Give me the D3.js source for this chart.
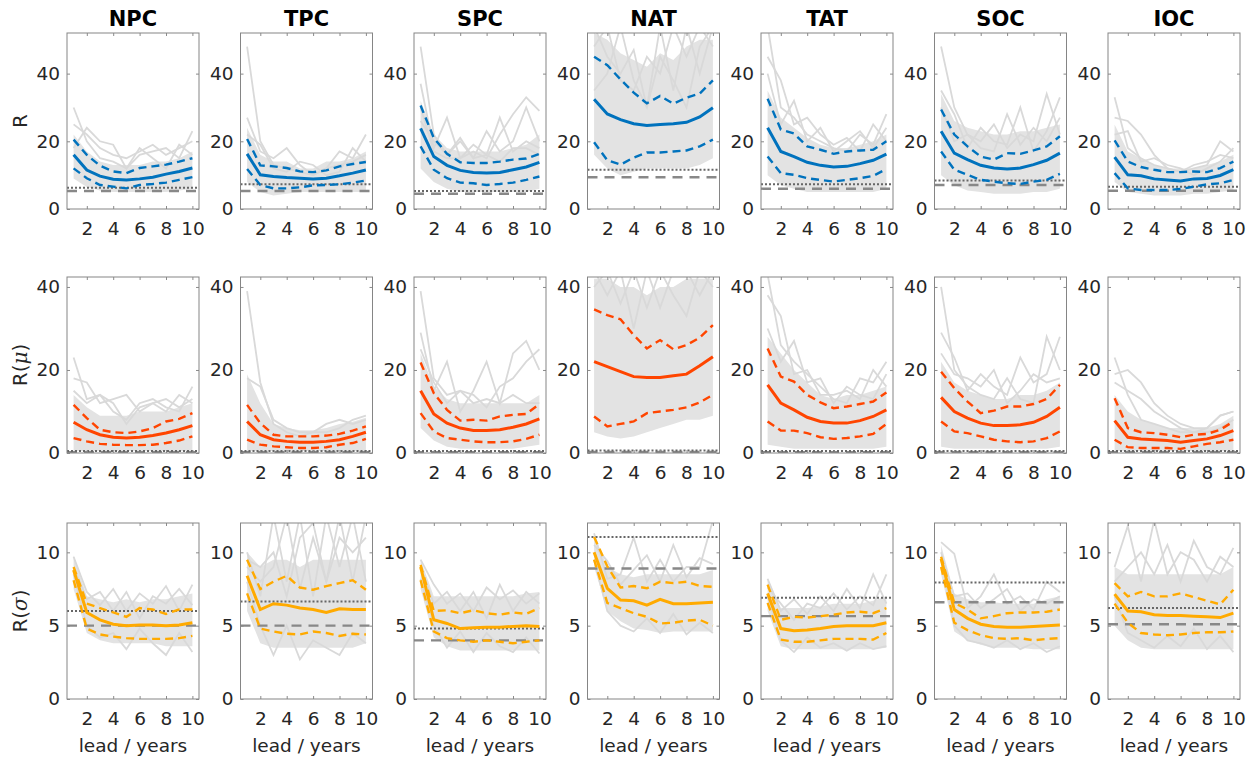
<!DOCTYPE html>
<html>
<head>
<meta charset="utf-8">
<script src="https://cdn.jsdelivr.net/npm/d3@7"></script>
<style>
  body { margin: 0; background: #fff; }
  text { font-family: "DejaVu Sans", "Liberation Sans", Arial, sans-serif; }
</style>
</head>
<body>
<script>
// ---- data ----
const leads = [1, 2, 3, 4, 5, 6, 7, 8, 9, 10];
const regions = ["NPC", "TPC", "SPC", "NAT", "TAT", "SOC", "IOC"];
const xTicks = [2, 4, 6, 8, 10];

// row 1 : R
const R_mean = [
  [16, 11.5, 9.7, 8.8, 8.6, 8.9, 9.4, 10.3, 11.1, 12.1],
  [16.3, 10.1, 9.6, 9.3, 9.1, 8.9, 9.1, 9.8, 10.6, 11.5],
  [23.8, 15.5, 12.9, 11.4, 10.8, 10.6, 10.8, 11.6, 12.4, 13.8],
  [32.4, 28.1, 26.4, 25.2, 24.7, 25, 25.2, 25.6, 27.2, 29.9],
  [24, 17, 15.5, 13.8, 12.9, 12.4, 12.6, 13.4, 14.4, 16.2],
  [23, 16.5, 14.6, 12.9, 12.1, 11.8, 12.1, 13.1, 14.4, 16.5],
  [15.3, 10.1, 9.8, 8.9, 8.6, 8.3, 8.9, 9, 9.9, 11.6]
];
const R_upper = [
  [20.5, 16, 12.8, 11.1, 10.6, 12.1, 12.6, 13.1, 14, 15],
  [20.7, 12.9, 12.6, 12.1, 11.1, 10.9, 11.4, 12.6, 13.3, 13.9],
  [30.6, 21, 16.3, 13.8, 13.6, 13.6, 14, 14.6, 14.9, 16.3],
  [45, 42.5, 38.3, 34.4, 31.2, 33.4, 31.1, 32.9, 34.1, 38],
  [32.6, 23.5, 22.3, 18.5, 17.5, 16.3, 17, 17.3, 17.5, 20],
  [29.4, 22, 18.5, 15.5, 14.6, 16.5, 16.3, 17.3, 18.5, 21.5],
  [20.3, 14, 12.4, 11.6, 10.9, 10.9, 11.1, 10.9, 12.1, 14]
];
const R_lower = [
  [12, 9.1, 7.1, 6.6, 6.1, 7.1, 7.4, 7.8, 8.6, 9.4],
  [11.8, 7.1, 6.1, 6.1, 6.4, 7, 7.1, 7.3, 7.8, 8.4],
  [18.5, 11.6, 9.1, 7.8, 7.6, 7.1, 7.4, 7.8, 8.6, 9.6],
  [19.7, 14.4, 13.1, 15.2, 16.7, 16.7, 17, 17.3, 18.5, 20.5],
  [15.5, 10.6, 10.1, 9.1, 8.6, 8.1, 8.6, 9.1, 9.8, 11.8],
  [17, 11.6, 10.1, 8.6, 8.1, 7.6, 7.4, 8.1, 8.6, 10.4],
  [10.6, 6.1, 5.6, 5.6, 5.6, 5.9, 6.6, 7.3, 7.6, 8.6]
];
const R_dotted = [6.3, 7.3, 5.3, 11.6, 7.3, 8.4, 6.6];
const R_dashed = [5.3, 5.3, 4.5, 9.4, 6, 7.1, 5.4];
const R_grayLo = [
  [9, 6.5, 5.5, 5, 5, 5, 5, 5, 5.5, 6],
  [8, 5, 4, 4.5, 5, 5, 5, 5, 5, 5],
  [12, 8, 6, 5, 5, 5, 5, 5, 5, 6],
  [16, 12, 10, 11, 12, 12, 12, 12, 13, 15],
  [10, 7, 6, 5, 5, 5, 5, 5, 5, 6],
  [10, 7, 5.5, 5, 4.5, 4.5, 4.5, 5, 5, 6],
  [8, 5, 4.5, 4, 4, 4, 4.5, 4.5, 5, 5.5]
];
const R_grayHi = [
  [22, 17, 14, 13, 13, 13, 14, 14, 15, 17],
  [24, 16, 14, 14, 12, 12, 14, 14, 15, 17],
  [32, 22, 18, 17, 17, 17, 17, 18, 19, 22],
  [52, 50, 46, 44, 42, 46, 44, 48, 50, 50],
  [35, 27, 24, 21, 19, 18, 18, 19, 20, 22],
  [34, 26, 24, 23, 22, 22, 23, 23, 24, 25],
  [25, 17, 15, 13, 12, 12, 12, 13, 14, 16]
];
const R_grayLines = [
  [[30, 20, 15, 14, 12, 16, 17, 18, 15, 23], [25, 22, 18, 16, 15, 17, 19, 16, 18, 20], [18, 24, 20, 19, 12, 18, 15, 12, 19, 16]],
  [[48, 20, 13, 12, 11, 10, 12, 13, 14, 16], [27, 17, 15, 18, 13, 10, 12, 17, 15, 22], [22, 19, 12, 11, 14, 13, 10, 11, 18, 14]],
  [[48, 22, 16, 20, 15, 16, 14, 18, 18, 16], [37, 18, 27, 15, 19, 16, 27, 17, 20, 18], [30, 17, 15, 15, 17, 15, 22, 28, 33, 29], [26, 20, 16, 21, 15, 23, 17, 20, 30, 20]],
  [[54, 45, 40, 47, 30, 54, 35, 54, 40, 54], [48, 54, 38, 35, 45, 40, 54, 45, 54, 48], [35, 40, 54, 38, 30, 45, 38, 30, 48, 54]],
  [[54, 30, 27, 22, 20, 18, 17, 22, 19, 28], [45, 38, 25, 27, 22, 19, 21, 17, 25, 20], [40, 25, 32, 20, 24, 17, 20, 23, 18, 24]],
  [[48, 30, 22, 20, 25, 18, 22, 20, 34, 22], [35, 28, 18, 24, 20, 19, 30, 17, 23, 33], [30, 20, 22, 18, 17, 28, 19, 24, 20, 27]],
  [[33, 18, 15, 13, 12, 11, 12, 13, 20, 17], [27, 26, 22, 16, 12, 11, 13, 14, 16, 15], [22, 23, 14, 15, 13, 12, 10, 12, 14, 18]]
];

// row 2 : R(mu)
const M_mean = [
  [7.4, 5.6, 4.4, 3.8, 3.6, 3.8, 4.2, 4.8, 5.6, 6.6],
  [7.6, 4.4, 3.2, 2.8, 2.6, 2.6, 2.8, 3.2, 4, 5],
  [15, 9.4, 7.2, 6, 5.4, 5.4, 5.6, 6.2, 7, 8.2],
  [22, 20.8, 19.6, 18.4, 18.2, 18.2, 18.6, 19, 21, 23.2],
  [16.4, 12, 10.4, 8.6, 7.6, 7.2, 7.2, 7.8, 8.8, 10.4],
  [13.4, 10, 8.4, 7.2, 6.6, 6.6, 6.8, 7.4, 8.8, 11],
  [7.8, 3.8, 3.4, 3.2, 3, 2.6, 3, 3.4, 4.2, 5.4]
];
const M_upper = [
  [11.6, 8.4, 5.6, 5, 4.8, 5.2, 6, 7.6, 8.2, 9.6],
  [11.6, 7.2, 4.4, 4, 4, 4, 4.2, 4.6, 5.4, 6.4],
  [21.8, 14.4, 10.4, 7.8, 8, 7.8, 8.8, 9.2, 9.4, 11.8],
  [34.6, 33.2, 32.2, 28.4, 25.2, 27.2, 25, 26, 27.8, 30.8],
  [25.2, 18.4, 17.2, 14, 12.2, 10.8, 11.2, 11.8, 12.4, 14.6],
  [19.6, 15.6, 12.4, 9.6, 10.2, 11.2, 11.2, 11.8, 13, 16.4],
  [13.2, 6, 5, 4.8, 4.4, 3.8, 4.4, 4.6, 5.6, 7.6]
];
const M_lower = [
  [3.6, 2.8, 2.2, 2, 1.9, 1.9, 2, 2.4, 3, 4],
  [3.2, 2, 1.6, 1.4, 1.2, 1.2, 1.4, 2, 2.4, 3.4],
  [9.6, 5.2, 3.6, 3.2, 2.8, 2.6, 2.6, 2.8, 3.4, 4.4],
  [8.8, 6.4, 7, 7.6, 9.6, 10, 10.4, 11, 12.2, 14],
  [7.6, 5.4, 5.4, 4.8, 3.8, 3.4, 3.6, 4, 4.6, 7],
  [7.6, 5.2, 4.8, 4, 3.2, 2.8, 2.6, 2.8, 3.6, 5.2],
  [3.2, 1.4, 1.2, 1.2, 1.2, 1, 1.6, 2.2, 2.6, 3.2]
];
const M_dotted = [0.5, 0.5, 0.5, 0.6, 0.5, 0.5, 0.5];
const M_dashed = [0.2, 0.2, 0.2, 0.25, 0.2, 0.2, 0.2];
const M_grayLo = [
  [0.5, 0.5, 0.5, 0.5, 0.5, 0.5, 0.5, 0.5, 0.5, 0.5],
  [0.5, 0.5, 0.5, 0.5, 0.5, 0.5, 0.5, 0.5, 0.5, 0.5],
  [6, 3, 1.5, 1, 1, 1, 1, 1, 1.5, 2],
  [5, 4, 3.5, 4, 5, 6, 7, 8, 8, 9],
  [2, 1.5, 1, 1, 1, 1, 1, 1, 1, 1.5],
  [1.5, 1, 1, 1, 1, 1, 1, 1, 1, 1.5],
  [0.5, 0.5, 0.5, 0.5, 0.5, 0.5, 0.5, 0.5, 0.5, 0.5]
];
const M_grayHi = [
  [14, 11, 9, 9, 9, 10, 10, 10, 11, 12],
  [19, 12, 7, 6, 5.5, 5.5, 6, 7, 7.5, 8.5],
  [24, 16, 13, 12, 12, 12, 12, 12, 12, 14],
  [42, 42, 40, 40, 38, 40, 40, 42, 42, 42],
  [28, 24, 20, 17, 14, 13, 14, 14, 15, 16],
  [22, 17, 15, 14, 13, 13, 14, 14, 15, 17],
  [14, 10, 8, 7, 6, 6, 6, 6, 7, 9]
];
const M_grayLines = [
  [[23, 13, 14, 10, 8, 12, 13, 11, 10, 16], [18, 17, 12, 13, 14, 10, 12, 10, 14, 12], [15, 12, 14, 12, 7, 11, 12, 13, 11, 13]],
  [[39, 17, 7, 5, 4, 5, 5, 6, 8, 9], [18, 16, 8, 6, 5, 5, 7, 8, 7, 8]],
  [[39, 18, 14, 15, 12, 13, 12, 14, 12, 12], [29, 15, 22, 10, 15, 22, 12, 24, 27, 20], [25, 17, 12, 15, 14, 11, 16, 18, 22, 25]],
  [[44, 38, 44, 30, 44, 35, 44, 44, 38, 44], [40, 44, 36, 44, 35, 44, 38, 33, 44, 40]],
  [[43, 26, 22, 19, 16, 13, 12, 18, 17, 22], [38, 33, 19, 20, 14, 14, 15, 13, 20, 16], [30, 22, 27, 17, 18, 12, 16, 14, 13, 19]],
  [[40, 20, 16, 14, 13, 18, 13, 12, 28, 20], [29, 23, 15, 19, 16, 14, 23, 17, 19, 28], [24, 19, 18, 16, 20, 12, 15, 19, 17, 18]],
  [[23, 14, 8, 7, 6, 5, 5, 5, 6, 8], [19, 20, 17, 12, 9, 7, 6, 6, 9, 10], [17, 15, 13, 10, 8, 6, 5, 6, 9, 10]]
];

// row 3 : R(sigma)
const S_mean = [
  [8.8, 5.9, 5.4, 5.1, 5, 5.05, 5.05, 5, 5.05, 5.2],
  [8.4, 6.1, 6.5, 6.4, 6.2, 6.1, 5.9, 6.15, 6.1, 6.1],
  [9, 5.4, 5.15, 4.8, 4.85, 4.9, 4.9, 4.95, 5, 4.95],
  [10, 7.55, 6.75, 6.7, 6.4, 6.8, 6.5, 6.5, 6.55, 6.6],
  [7.2, 4.8, 4.65, 4.7, 4.8, 4.95, 5, 5, 5, 5.2],
  [9.55, 6.1, 5.5, 5.1, 4.95, 4.9, 4.9, 4.95, 5, 5.05],
  [7.15, 6, 5.95, 5.75, 5.7, 5.7, 5.65, 5.6, 5.55, 5.85]
];
const S_upper = [
  [9, 6.5, 6.2, 5.9, 5.6, 6.2, 6.1, 5.8, 6.1, 6.1],
  [9.5, 7.5, 8, 8.4, 7.6, 7.45, 7.7, 7.9, 8.1, 7.45],
  [9.15, 6, 6.05, 5.85, 6.05, 5.85, 5.75, 5.9, 5.8, 6.2],
  [11.05, 9.05, 7.6, 7.7, 7.55, 8, 7.9, 8, 7.7, 7.65],
  [7.8, 5.4, 5.6, 5.55, 5.65, 5.75, 5.9, 5.95, 5.85, 6.2],
  [9.7, 6.55, 6.1, 5.5, 5.65, 5.85, 5.9, 5.9, 5.95, 6.1],
  [7.9, 7, 7.3, 7, 7, 7.2, 6.95, 6.7, 6.45, 7.45]
];
const S_lower = [
  [8.1, 4.8, 4.4, 4.25, 4.15, 4.1, 4.1, 4.1, 4.15, 4.3],
  [7.2, 4.8, 4.6, 4.45, 4.4, 4.6, 4.5, 4.3, 4.45, 4.4],
  [8.1, 4.6, 4.15, 4, 3.9, 4, 3.9, 3.8, 3.9, 4],
  [9.5, 6.55, 6.2, 5.85, 5.6, 5.15, 5.2, 5.35, 5.4, 5],
  [6.55, 4.05, 3.9, 3.9, 4, 4.1, 4.1, 4.1, 4.05, 4.5],
  [9, 5.2, 4.7, 4.35, 4.15, 4.1, 4.15, 4, 4.1, 4.15],
  [6.5, 5.2, 4.5, 4.4, 4.35, 4.4, 4.5, 4.55, 4.55, 4.6]
];
const S_dotted = [6, 6.65, 4.8, 11.05, 6.9, 7.95, 6.2];
const S_dashed = [5, 5, 4, 8.9, 5.65, 6.6, 5.1];
const S_grayLo = [
  [7.5, 4.5, 4, 3.8, 3.8, 3.8, 3.8, 3.6, 3.6, 3.6],
  [6, 3.8, 3.5, 3.5, 3.5, 3.5, 3.5, 3.5, 3.5, 3.8],
  [7.5, 4.2, 3.6, 3.3, 3.3, 3.3, 3.3, 3.3, 3.3, 3.3],
  [9, 6, 5.3, 4.8, 4.7, 4.5, 4.6, 4.6, 4.6, 4.6],
  [6, 3.6, 3.4, 3.4, 3.4, 3.4, 3.4, 3.4, 3.4, 3.5],
  [8.5, 4.6, 4, 3.7, 3.5, 3.5, 3.5, 3.4, 3.4, 3.4],
  [5, 4, 3.5, 3.4, 3.4, 3.4, 3.4, 3.4, 3.4, 3.4]
];
const S_grayHi = [
  [9.8, 7, 6.8, 6.6, 6.8, 6.6, 6.8, 6.8, 7, 7.2],
  [10, 9, 9.5, 9.5, 9, 9.5, 9.5, 9.5, 9.5, 9.5],
  [9.5, 7, 7, 7, 7, 7, 7, 7, 7.2, 7.3],
  [11.2, 9, 8.5, 8.3, 8.5, 8.5, 8.5, 8.5, 8.5, 8.8],
  [8.2, 6.2, 6.2, 6.2, 6.3, 6.5, 6.5, 6.5, 6.7, 7],
  [10.5, 7.2, 6.8, 6.6, 6.6, 6.5, 6.5, 6.5, 6.8, 7],
  [9, 8.5, 8.5, 8.5, 8.5, 8.5, 8.5, 8.5, 8.5, 9]
];
const S_grayLines = [
  [[9.7, 7.3, 6.4, 7.5, 6, 7.2, 6.5, 7.7, 6, 7.8], [9, 6.8, 7.3, 6, 7.3, 5.5, 7, 6.5, 7.5, 6.4], [8.5, 5, 4.2, 4.5, 3.4, 4.8, 3.8, 3, 4.5, 3.2]],
  [[10, 7, 12.5, 8, 12.5, 7, 12.5, 9, 12.5, 8], [9, 8, 9, 12.5, 7.5, 11, 8, 12.5, 8, 12.5], [8, 5, 3, 5, 2.7, 4, 3.5, 3, 4.5, 3.8], [9.5, 9, 10, 7, 11, 12, 8, 11, 10, 11]],
  [[9.5, 7.8, 6.5, 7.2, 6, 7.6, 6.8, 7.4, 6.5, 7.2], [9, 6.5, 7.3, 6, 7.3, 5.5, 7.8, 6, 7.3, 6.5], [8.2, 5, 3.5, 4.6, 3.2, 4.5, 3.6, 3.2, 4.2, 3.1]],
  [[11.3, 8.2, 8.5, 11, 8, 9.5, 8, 9, 9, 12.2], [10.5, 9.4, 7.8, 8.8, 9.8, 8, 10.5, 8.3, 9.6, 9.2], [9.5, 6, 5, 4.6, 5.5, 4.5, 5.8, 4.4, 5.2, 4.5]],
  [[8.2, 6, 6.8, 5.8, 7, 6, 7.5, 6.2, 8.5, 6.5], [7.6, 6.5, 5.4, 6.5, 6.2, 7.2, 6.1, 7, 6.4, 8.5], [7, 4, 3.2, 4.2, 3.5, 3.8, 3.3, 3.8, 3.4, 3.6]],
  [[10.7, 9.9, 6.2, 7, 8.5, 6.5, 7, 6.1, 8, 7.3], [10, 7, 7.2, 6.2, 6.8, 7.5, 6, 6.8, 6.5, 7], [9.5, 5, 4, 3.8, 3.5, 4, 3.4, 3.8, 3.2, 3.6]],
  [[9, 11.8, 8, 12.2, 8.5, 10, 9.5, 8, 9.7, 9], [8, 9, 10, 8.5, 10.5, 8, 10.8, 9, 8.5, 10.3], [7, 4.5, 4, 3.5, 4.3, 3.6, 4.8, 3.4, 4.3, 3.2]]
];

const rows = [
  { label: "R", sym: null, ymax: 52, ticks: [0, 20, 40], color: "#0072bd",
    mean: R_mean, upper: R_upper, lower: R_lower, dotted: R_dotted, dashed: R_dashed,
    grayLo: R_grayLo, grayHi: R_grayHi, grayLines: R_grayLines },
  { label: "R", sym: "\u03bc", ymax: 42.4, ticks: [0, 20, 40], color: "#ff4500",
    mean: M_mean, upper: M_upper, lower: M_lower, dotted: M_dotted, dashed: M_dashed,
    grayLo: M_grayLo, grayHi: M_grayHi, grayLines: M_grayLines },
  { label: "R", sym: "\u03c3", ymax: 12, ticks: [0, 5, 10], color: "#ffaa00",
    mean: S_mean, upper: S_upper, lower: S_lower, dotted: S_dotted, dashed: S_dashed,
    grayLo: S_grayLo, grayHi: S_grayHi, grayLines: S_grayLines }
];

// ---- layout ----
const W = 132, H = 176;
const colX = regions.map((d, i) => 67 + i * 173.5);
const rowY = [33, 277, 523];

const svg = d3.select("body").append("svg")
  .attr("width", 1258)
  .attr("height", 760);

const x = d3.scaleLinear().domain([0.5, 10.5]).range([0, W]);

rows.forEach((row, r) => {
  const y = d3.scaleLinear().domain([0, row.ymax]).range([H, 0]);
  const line = d3.line().x((d, i) => x(leads[i])).y(d => y(d));

  regions.forEach((reg, c) => {
    const g = svg.append("g").attr("transform", `translate(${colX[c]},${rowY[r]})`);
    const clipId = `clip-${r}-${c}`;
    g.append("clipPath").attr("id", clipId)
      .append("rect").attr("width", W).attr("height", H);
    const plot = g.append("g").attr("clip-path", `url(#${clipId})`);

    // ensemble members: dense core + some individual members
    const area = d3.area()
      .x((d, i) => x(leads[i]))
      .y0((d, i) => y(row.grayLo[c][i]))
      .y1(d => y(d));
    plot.append("path").datum(row.grayHi[c])
      .attr("d", area)
      .attr("fill", "#e3e3e3");
    row.grayLines[c].forEach(l => {
      plot.append("path").datum(l)
        .attr("d", line)
        .attr("fill", "none")
        .attr("stroke", "#d9d9d9")
        .attr("stroke-width", 1.8);
    });

    // reference levels
    plot.append("line")
      .attr("x1", 0).attr("x2", W)
      .attr("y1", y(row.dashed[c])).attr("y2", y(row.dashed[c]))
      .attr("stroke", "#888").attr("stroke-width", 2.4)
      .attr("stroke-dasharray", "10,7");
    plot.append("line")
      .attr("x1", 0).attr("x2", W)
      .attr("y1", y(row.dotted[c])).attr("y2", y(row.dotted[c]))
      .attr("stroke", "#666").attr("stroke-width", 2)
      .attr("stroke-dasharray", "2,2");

    // spread and mean
    [row.upper[c], row.lower[c]].forEach(l => {
      plot.append("path").datum(l)
        .attr("d", line)
        .attr("fill", "none")
        .attr("stroke", row.color)
        .attr("stroke-width", 2.4)
        .attr("stroke-dasharray", "8,5");
    });
    plot.append("path").datum(row.mean[c])
      .attr("d", line)
      .attr("fill", "none")
      .attr("stroke", row.color)
      .attr("stroke-width", 3);

    // axes, matlab style (ticks inside, box)
    const axB = g.append("g").attr("transform", `translate(0,${H})`)
      .call(d3.axisBottom(x).tickValues(xTicks).tickSizeInner(-3).tickSizeOuter(0).tickPadding(13));
    const axT = g.append("g")
      .call(d3.axisTop(x).tickValues(xTicks).tickSizeInner(-3).tickSizeOuter(0).tickFormat(""));
    const axL = g.append("g")
      .call(d3.axisLeft(y).tickValues(row.ticks).tickSizeInner(-3).tickSizeOuter(0).tickPadding(7));
    const axR = g.append("g").attr("transform", `translate(${W},0)`)
      .call(d3.axisRight(y).tickValues(row.ticks).tickSizeInner(-3).tickSizeOuter(0).tickFormat(""));
    [axB, axT, axL, axR].forEach(a => {
      a.select(".domain").remove();
      a.selectAll(".tick line").attr("stroke", "#8a8a8a");
      a.selectAll("text")
        .attr("fill", "#262626")
        .style("font-size", "18.5px")
        .style("font-family", "'DejaVu Sans', sans-serif");
    });

    g.append("rect")
      .attr("width", W).attr("height", H)
      .attr("fill", "none")
      .attr("stroke", "#858585")
      .attr("stroke-width", 1);

    if (r === 0) {
      g.append("text")
        .attr("x", W / 2).attr("y", -7)
        .attr("text-anchor", "middle")
        .attr("font-weight", "bold")
        .attr("font-size", 21)
        .attr("fill", "#000")
        .text(reg);
    }
    if (r === rows.length - 1) {
      g.append("text")
        .attr("x", W / 2).attr("y", H + 53)
        .attr("text-anchor", "middle")
        .attr("font-size", 18.5)
        .attr("fill", "#262626")
        .text("lead / years");
    }
    if (c === 0) {
      const t = g.append("text")
        .attr("transform", `translate(-47,${H / 2}) rotate(-90)`)
        .attr("text-anchor", "middle")
        .attr("dominant-baseline", "central")
        .attr("font-size", 20)
        .attr("fill", "#262626");
      t.append("tspan").text(row.label);
      if (row.sym) {
        t.append("tspan").text("(");
        t.append("tspan").attr("font-style", "italic").attr("font-family", "'DejaVu Serif', serif").text(row.sym);
        t.append("tspan").text(")");
      }
    }
  });
});
</script>
</body>
</html>
